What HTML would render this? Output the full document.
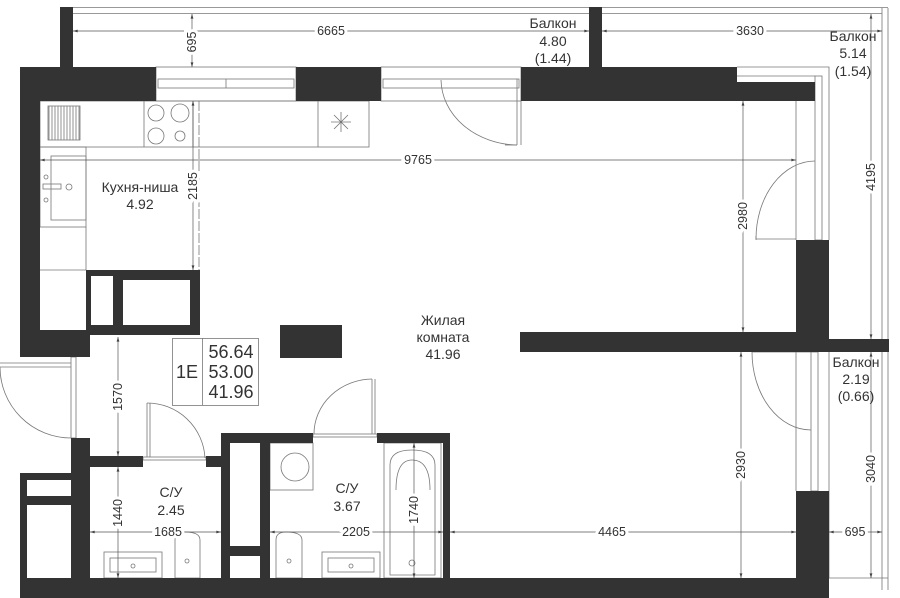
<!DOCTYPE html>
<html><head><meta charset="utf-8"><style>
html,body{margin:0;padding:0;background:#fff;}
svg{display:block;}
text{font-family:"Liberation Sans",sans-serif;fill:#333;}
</style></head><body>
<svg width="900" height="598" viewBox="0 0 900 598" xmlns="http://www.w3.org/2000/svg">
<defs>
<pattern id="h" width="3" height="4" patternUnits="userSpaceOnUse"><line x1="1" y1="0" x2="1" y2="4" stroke="#777" stroke-width="0.8"/></pattern>
<marker id="a" viewBox="0 0 10 6" refX="10" refY="3" markerWidth="8" markerHeight="4" orient="auto-start-reverse"><path d="M0,0 L10,3 L0,6 z" fill="#444"/></marker>
</defs>
<g fill="none" stroke="#777" stroke-width="0.8">
  <line x1="73" y1="7.5" x2="888" y2="7.5"/>
  <line x1="73" y1="13.5" x2="882" y2="13.5"/>
  <line x1="882" y1="8" x2="882" y2="590"/>
  <line x1="888" y1="8" x2="888" y2="590"/>
  <line x1="829" y1="578" x2="888" y2="578"/>
  <rect x="156" y="67" width="140" height="34"/>
  <rect x="158" y="79" width="136" height="9"/>
  <line x1="226" y1="79" x2="226" y2="88"/>
  <rect x="381" y="67" width="140" height="34"/>
  <rect x="383" y="79" width="136" height="9"/>
  <line x1="517" y1="79" x2="517" y2="145"/>
  <line x1="521" y1="79" x2="521" y2="145"/>
  <path d="M517,145 A78,66 0 0 1 441,80"/>
  <line x1="517" y1="145" x2="505" y2="145"/>
  <path d="M737,67 H829 V240"/>
  <rect x="815" y="76" width="7" height="164"/>
  <line x1="737" y1="76" x2="815" y2="76"/>
  <line x1="796" y1="101" x2="796" y2="240"/>
  <path d="M756,239 A59,78 0 0 1 815,161"/>
  <line x1="756" y1="239" x2="796" y2="239"/>
  <line x1="756" y1="236" x2="756" y2="240"/>
  <rect x="811" y="352" width="7" height="139"/>
  <line x1="796" y1="352" x2="796" y2="491"/>
  <line x1="829" y1="352" x2="829" y2="578"/>
  <path d="M752,352 A59,78 0 0 0 811,430"/>
  <line x1="752" y1="352" x2="811" y2="352"/>
  <rect x="40" y="101" width="329" height="46"/>
  <line x1="144" y1="101" x2="144" y2="147"/>
  <line x1="193" y1="101" x2="193" y2="147"/>
  <line x1="318" y1="101" x2="318" y2="147"/>
  <rect x="48" y="106" width="32" height="34"/>
  <circle cx="156" cy="113" r="8"/><circle cx="180" cy="113" r="9"/>
  <circle cx="156" cy="136" r="8"/><circle cx="180" cy="136" r="5"/>
  <path d="M334,115 l14,14 M348,115 l-14,14 M341,112 v20 M331,122 h20"/>
  <rect x="40" y="147" width="46" height="80"/>
  <rect x="51" y="156" width="35" height="64"/>
  <line x1="86" y1="227" x2="86" y2="270"/>
  <line x1="40" y1="270" x2="86" y2="270"/>
  <circle cx="46" cy="177" r="2"/><circle cx="46" cy="200" r="2"/><circle cx="69" cy="187" r="3"/>
  <rect x="43" y="184" width="18" height="5"/>
  <line x1="199" y1="101" x2="199" y2="270" stroke-dasharray="10 2"/>
  <rect x="71" y="357" width="5" height="81"/>
  <line x1="0" y1="363" x2="71" y2="363"/>
  <line x1="0" y1="367" x2="71" y2="367"/>
  <path d="M0,367 A71,71 0 0 0 71,438"/>
  <rect x="143" y="457" width="63" height="3"/>
  <line x1="147" y1="403" x2="147" y2="457"/>
  <line x1="150" y1="403" x2="150" y2="457"/>
  <path d="M147,403 A58,58 0 0 1 205,458"/>
  <rect x="313" y="434" width="64" height="3"/>
  <line x1="372" y1="379" x2="372" y2="434"/>
  <line x1="375" y1="379" x2="375" y2="434"/>
  <path d="M372,379 A59,55 0 0 0 314,434"/>
  <rect x="270" y="443" width="43" height="47"/>
  <circle cx="295" cy="467" r="14"/>
  <rect x="384" y="443" width="57" height="135"/>
  <path d="M390,575 V465 Q390,450 412,450 Q435,450 435,465 V575 Z"/>
  <path d="M396,490 Q396,460 412,460 Q430,460 430,490"/>
  <circle cx="412" cy="563" r="3"/>
  <rect x="104" y="552" width="58" height="26"/>
  <rect x="110" y="558" width="46" height="14"/>
  <circle cx="133" cy="566" r="2"/>
  <path d="M175,578 V540 Q175,532 185,532 Q200,532 200,540 V578 Z"/>
  <circle cx="187" cy="561" r="2"/>
  <path d="M276,578 V540 Q276,532 286,532 Q302,532 302,540 V578 Z"/>
  <circle cx="289" cy="561" r="2"/>
  <rect x="322" y="552" width="58" height="26"/>
  <rect x="328" y="558" width="46" height="14"/>
  <circle cx="351" cy="566" r="2"/>
  <rect x="172.5" y="338.5" width="86" height="67"/>
  <line x1="202.5" y1="338" x2="202.5" y2="405"/>
  <line x1="449" y1="433" x2="449" y2="578"/>
</g>
<g fill="#333">
  <rect x="60" y="7" width="13" height="61"/>
  <rect x="20" y="67" width="136" height="34"/>
  <rect x="20" y="67" width="20" height="290"/>
  <rect x="20" y="330" width="70" height="27"/>
  <rect x="86" y="270" width="114" height="65"/>
  <rect x="296" y="67" width="85" height="34"/>
  <rect x="521" y="67" width="216" height="34"/>
  <rect x="737" y="82" width="78" height="19"/>
  <rect x="589" y="7" width="13" height="61"/>
  <rect x="796" y="240" width="33" height="112"/>
  <rect x="520" y="332" width="280" height="20"/>
  <rect x="829" y="339" width="60" height="13"/>
  <rect x="796" y="491" width="33" height="107"/>
  <rect x="20" y="578" width="809" height="20"/>
  <rect x="20" y="473" width="52" height="125"/>
  <rect x="71" y="438" width="19" height="160"/>
  <rect x="90" y="456" width="53" height="11"/>
  <rect x="206" y="456" width="16" height="11"/>
  <rect x="221" y="433" width="92" height="10"/>
  <rect x="377" y="433" width="73" height="10"/>
  <rect x="221" y="433" width="49" height="145"/>
  <rect x="443" y="433" width="7" height="145"/>
  <rect x="280" y="325" width="62" height="33"/>
</g>
<g fill="#fff">
  <rect x="91" y="276" width="22" height="49"/>
  <rect x="123" y="280" width="67" height="45"/>
  <rect x="27" y="480" width="44" height="16"/>
  <rect x="27" y="505" width="44" height="73"/>
  <rect x="230" y="443" width="30" height="103"/>
  <rect x="230" y="556" width="30" height="22"/>
</g>
<rect x="48" y="106" width="32" height="34" fill="url(#h)"/>
<g stroke="#555" stroke-width="0.7" fill="none" marker-start="url(#a)" marker-end="url(#a)">
  <line x1="73" y1="31" x2="589" y2="31"/>
  <line x1="602" y1="31" x2="882" y2="31"/>
  <line x1="192" y1="14" x2="192" y2="67"/>
  <line x1="871" y1="14" x2="871" y2="339"/>
  <line x1="40" y1="160" x2="796" y2="160"/>
  <line x1="193" y1="101" x2="193" y2="270"/>
  <line x1="743" y1="101" x2="743" y2="332"/>
  <line x1="741" y1="352" x2="741" y2="578"/>
  <line x1="871" y1="352" x2="871" y2="578"/>
  <line x1="450" y1="532" x2="796" y2="532"/>
  <line x1="829" y1="532" x2="882" y2="532"/>
  <line x1="118" y1="337" x2="118" y2="456"/>
  <line x1="118" y1="467" x2="118" y2="578"/>
  <line x1="90" y1="532" x2="221" y2="532"/>
  <line x1="270" y1="532" x2="443" y2="532"/>
  <line x1="414" y1="443" x2="414" y2="578"/>
</g>
<g fill="#333" font-size="12.5">
  <g text-anchor="middle" style="paint-order:stroke" stroke="#fff" stroke-width="6">
  <text x="331" y="35">6665</text>
  <text x="750" y="35">3630</text>
  <text x="418" y="164">9765</text>
  <text x="612" y="536">4465</text>
  <text x="855" y="536">695</text>
  <text x="168" y="536">1685</text>
  <text x="356" y="536">2205</text>
  <text transform="translate(196,42) rotate(-90)">695</text>
  <text transform="translate(875,177) rotate(-90)">4195</text>
  <text transform="translate(197,186) rotate(-90)">2185</text>
  <text transform="translate(747,216) rotate(-90)">2980</text>
  <text transform="translate(745,465) rotate(-90)">2930</text>
  <text transform="translate(875,469) rotate(-90)">3040</text>
  <text transform="translate(122,397) rotate(-90)">1570</text>
  <text transform="translate(122,513) rotate(-90)">1440</text>
  <text transform="translate(418,510) rotate(-90)">1740</text>
  </g>
  <g text-anchor="middle" font-size="14">
  <text x="553" y="28">Балкон</text><text x="553" y="46">4.80</text><text x="553" y="63">(1.44)</text>
  <text x="853" y="41">Балкон</text><text x="853" y="58">5.14</text><text x="853" y="76">(1.54)</text>
  <text x="856" y="367">Балкон</text><text x="856" y="384">2.19</text><text x="856" y="401">(0.66)</text>
  <text x="140" y="192">Кухня-ниша</text><text x="140" y="209">4.92</text>
  <text x="443" y="325">Жилая</text><text x="443" y="342">комната</text><text x="443" y="359">41.96</text>
  <text x="171" y="497">С/У</text><text x="171" y="515">2.45</text>
  <text x="347" y="493">С/У</text><text x="347" y="511">3.67</text>
  </g>
  <text x="187" y="378" font-size="18" text-anchor="middle">1E</text>
  <g font-size="18" text-anchor="middle"><text x="231" y="358">56.64</text><text x="231" y="378">53.00</text><text x="231" y="398">41.96</text></g>
</g>
</svg>
</body></html>
